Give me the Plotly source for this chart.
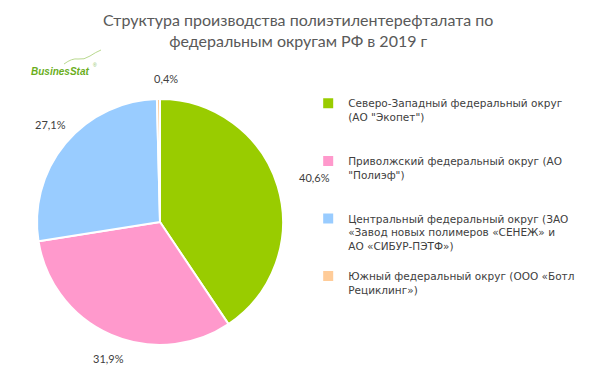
import math
import plotly.graph_objects as go

categories = [
    "Северо-Западный федеральный округ<br>(АО \"Экопет\")",
    "Приволжский федеральный округ (АО<br>\"Полиэф\")",
    "Центральный федеральный округ (ЗАО<br>«Завод новых полимеров «СЕНЕЖ» и<br>АО «СИБУР-ПЭТФ»)",
    "Южный федеральный округ (ООО «Ботл<br>Рециклинг»)",
]
values = [40.6, 31.9, 27.1, 0.4]
colors = ["#99CC00", "#FF99CC", "#99CCFF", "#FFCC99"]
title_lines = ["Структура производства полиэтилентерефталата по", "федеральным округам РФ в 2019 г"]

W, H = 598, 376
labels_txt = [f"{v:.1f}%".replace(".", ",") for v in values]

# pie geometry in pixels
cx, cy, R = 160, 214, 123
dom_shift = -8  # plotly renders the pie a bit right of the nominal domain centre

# legend: pad every entry to the same number of lines to mimic the wide spacing
max_lines = 4
legend_names = []
for c in categories:
    n = c.count("<br>") + 1
    legend_names.append(c + "<br> " * (max_lines - n) if n < max_lines else c)

fig = go.Figure(go.Pie(
    labels=legend_names,
    values=values,
    textinfo="none",
    marker=dict(colors=colors, line=dict(color="white", width=2)),
    sort=False,
    direction="clockwise",
    rotation=0,
    domain=dict(x=[(cx + dom_shift - R) / W, (cx + dom_shift + R) / W],
                y=[1 - (cy + R) / H, 1 - (cy - R) / H]),
    hoverinfo="label+percent",
))

# data labels placed around the pie from the slice mid-angles
annotations = []
total = sum(values)
cum = 0.0
gap = 14
lw, lh = 30, 12
for v, t in zip(values, labels_txt):
    mid = (cum + v / 2) / total * 2 * math.pi
    cum += v
    s, c = math.sin(mid), math.cos(mid)
    r = R + gap + (lw / 2) * abs(s) + (lh / 2) * abs(c)
    px, py = cx + r * s, cy - r * c
    annotations.append(dict(text=t, x=px / W, y=1 - py / H, xref="paper", yref="paper",
                            xanchor="center", yanchor="middle", showarrow=False,
                            font=dict(family="Lato, Open Sans, sans-serif", size=11, color="#404040")))

annotations += [
    dict(text=title_lines[0] + "<br>" + title_lines[1], x=290 / W, y=1,
         xref="paper", yref="paper", xanchor="center", yanchor="top", showarrow=False,
         font=dict(family="Lato, Open Sans, sans-serif", size=16, color="#595959")),
    dict(text="<b><i>BusinesStat</i></b>", x=21 / W, y=1 - 63 / H,
         xref="paper", yref="paper", xanchor="left", yanchor="middle", showarrow=False,
         font=dict(family="Liberation Sans, Arial, sans-serif", size=10, color="#6AAE1C")),
    dict(text="®", x=83 / W, y=1 - 57 / H,
         xref="paper", yref="paper", xanchor="left", yanchor="middle", showarrow=False,
         font=dict(family="Liberation Sans, Arial, sans-serif", size=5, color="#8CBF5A")),
]

fig.update_layout(
    width=W, height=H,
    margin=dict(l=0, r=0, t=0, b=0),
    paper_bgcolor="white",
    plot_bgcolor="white",
    showlegend=True,
    legend=dict(
        x=0.502, y=0.782, xanchor="left", yanchor="top",
        font=dict(family="DejaVu Sans, Verdana, sans-serif", size=10.5, color="#404040"),
        itemwidth=30,
        valign="top",
        tracegroupgap=0,
    ),
    annotations=annotations,
    shapes=[
        dict(type="path", xref="paper", yref="paper",
             path=f"M {56/W} {1-56/H} Q {64/W} {1-50/H} {70/W} {1-51/H} T {82/W} {1-48/H} T {93/W} {1-42/H}",
             line=dict(color="#B9D98F", width=1)),
    ],
)

fig.write_html("out.html")
